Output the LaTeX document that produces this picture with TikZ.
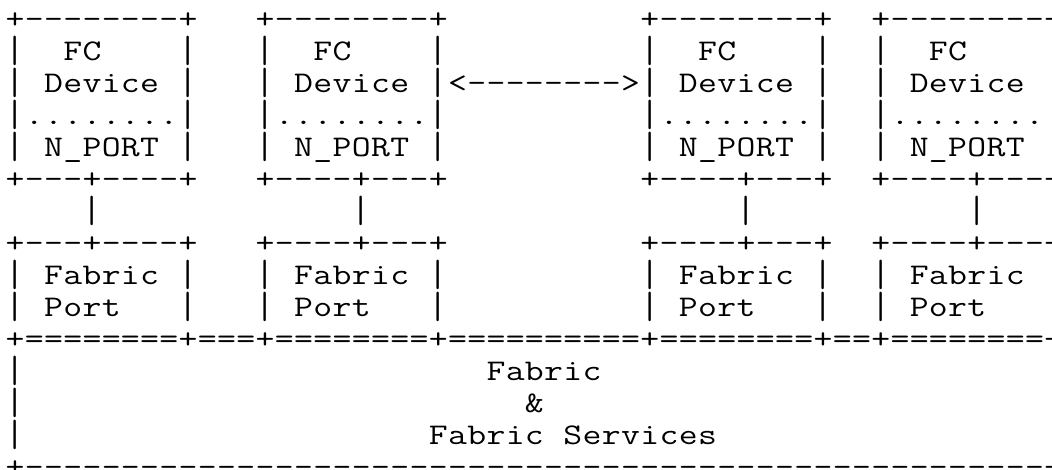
\documentclass[tikz,border=0pt]{standalone}
\usepackage{graphicx}
\ExplSyntaxOn
\cs_new:Npn \rp #1#2 { \prg_replicate:nn {#1} {#2} }
\dim_new:N \l_cw_dim
\dim_set:Nn \l_cw_dim {19.238bp}
\box_new:N \l_bar_box
\str_new:N \l_row_str
\cs_new_protected:Npn \bargl
  {
    \hbox_set:Nn \l_bar_box { \resizebox*{\l_cw_dim}{29.5bp}{|} }
    \box_move_down:nn { 5bp - \box_dp:N \l_bar_box } { \box_use:N \l_bar_box }
  }
\cs_new_protected:Npn \asciirow #1
  {
    \str_set:Nx \l_row_str {#1}
    \str_map_inline:Nn \l_row_str
      {
        \str_case:nnF {##1}
          {
            {*} { \hbox_to_wd:nn {\l_cw_dim} { \hfil } }
            {|} { \hbox_to_wd:nn {\l_cw_dim} { \hfil \bargl \hfil } }
          }
          { \hbox_to_wd:nn {\l_cw_dim} { \hfil \scalebox{1.2216}[1]{##1} \hfil } }
      }
  }
\ExplSyntaxOff
\tikzset{
  row/.style={anchor=base west, inner sep=0pt, outer sep=0pt,
    font=\fontsize{30bp}{32bp}\selectfont\ttfamily, text=black}
}
\begin{document}
\begin{tikzpicture}[x=1bp,y=1bp]
\fill[white] (0,0) rectangle (1052,-470);
\useasboundingbox (0,0) rectangle (1052,-470);
\def\xo{5.38}
\node[row] (r0)  at (\xo,-28.50)  {\asciirow{+\rp{8}{-}+***+\rp{8}{-}+\rp{10}{*}+\rp{8}{-}+**+\rp{8}{-}+}};
\node[row] (r1)  at (\xo,-60.53)  {\asciirow{|**FC****|***|**FC****|\rp{10}{*}|**FC****|**|**FC****|}};
\node[row] (r2)  at (\xo,-92.56)  {\asciirow{|*Device*|***|*Device*|<\rp{8}{-}>|*Device*|**|*Device*|}};
\node[row] (r3)  at (\xo,-124.59) {\asciirow{|........|***|........|\rp{10}{*}|........|**|........|}};
\node[row] (r4)  at (\xo,-156.62) {\asciirow{|*N_PORT*|***|*N_PORT*|\rp{10}{*}|*N_PORT*|**|*N_PORT*|}};
\node[row] (r5)  at (\xo,-188.65) {\asciirow{+---+----+***+----+---+\rp{10}{*}+----+---+**+----+---+}};
\node[row] (r6)  at (\xo,-220.68) {\asciirow{****|\rp{13}{*}|\rp{19}{*}|\rp{11}{*}|}};
\node[row] (r7)  at (\xo,-252.71) {\asciirow{+---+----+***+----+---+\rp{10}{*}+----+---+**+----+---+}};
\node[row] (r8)  at (\xo,-284.74) {\asciirow{|*Fabric*|***|*Fabric*|\rp{10}{*}|*Fabric*|**|*Fabric*|}};
\node[row] (r9)  at (\xo,-316.77) {\asciirow{|*Port***|***|*Port***|\rp{10}{*}|*Port***|**|*Port***|}};
\node[row] (r10) at (\xo,-348.80) {\asciirow{+\rp{8}{=}+===+\rp{8}{=}+\rp{10}{=}+\rp{8}{=}+==+\rp{8}{=}+}};
\node[row] (r11) at (\xo,-380.83) {\asciirow{|\rp{24}{*}Fabric\rp{23}{*}|}};
\node[row] (r12) at (\xo,-412.86) {\asciirow{|\rp{26}{*}&\rp{26}{*}|}};
\node[row] (r13) at (\xo,-444.89) {\asciirow{|\rp{21}{*}Fabric*Services\rp{17}{*}|}};
\node[row] (r14) at (\xo,-476.92) {\asciirow{+\rp{53}{-}+}};
\end{tikzpicture}
\end{document}
